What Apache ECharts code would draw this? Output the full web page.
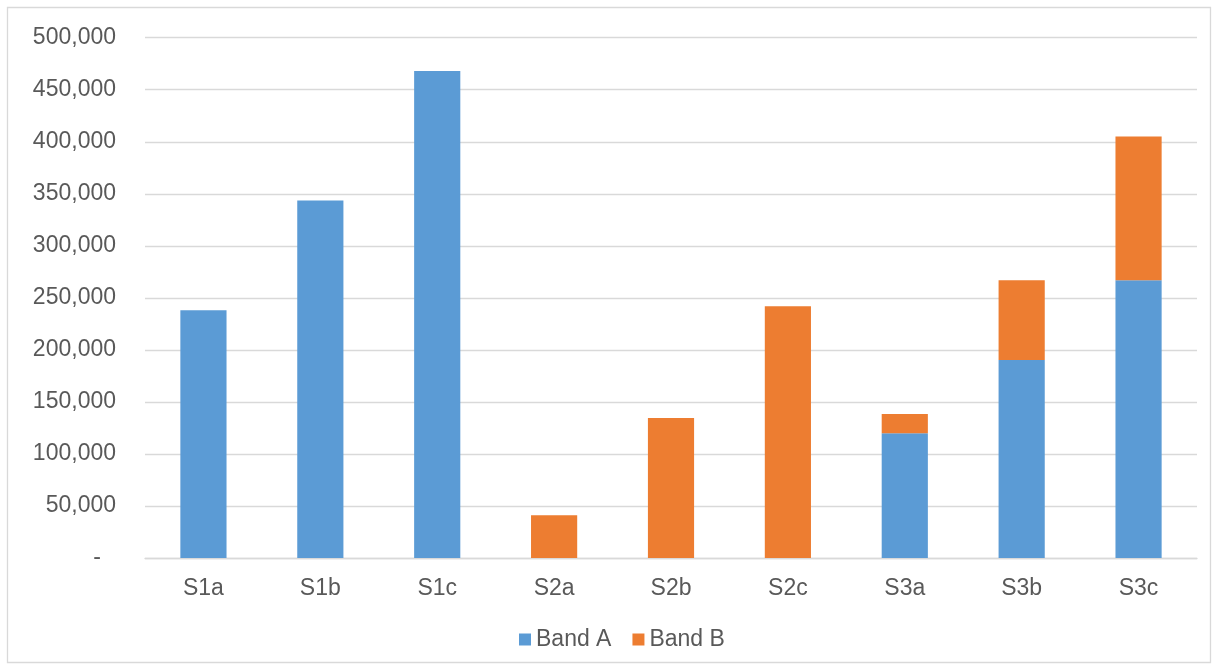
<!DOCTYPE html>
<html>
<head>
<meta charset="utf-8">
<script src="https://cdn.jsdelivr.net/npm/echarts@6/dist/echarts.min.js"></script>
<style>
  html, body { margin: 0; padding: 0; background: #fff; }
  #chart { width: 1217px; height: 670px; }
</style>
</head>
<body>
<div id="chart"></div>
<script>
// Categories and stacked values per band
const categories = ['S1a', 'S1b', 'S1c', 'S2a', 'S2b', 'S2c', 'S3a', 'S3b', 'S3c'];
const bandA = [238000, 343500, 468000, null, null, null, 120000, 190300, 267000];
const bandB = [null, null, null, 41000, 134500, 242000, 18500, 76600, 138000];
const yTicks = { min: 0, max: 500000, interval: 50000 };

const textColor = '#595959';
const gridColor = '#d9d9d9';
const fontFamily = '"Liberation Sans", Arial, sans-serif';
const fontSize = 23;

const chart = echarts.init(document.getElementById('chart'), null, { renderer: 'canvas' });

chart.setOption({
  animation: false,
  textStyle: { fontFamily: fontFamily },
  graphic: [{
    type: 'rect',
    shape: { x: 7.5, y: 7.5, width: 1203, height: 655 },
    style: { fill: 'none', stroke: gridColor, lineWidth: 1.3 },
    silent: true
  }],
  grid: { left: 145, right: 20, top: 37.7, bottom: 112 },
  legend: {
    data: ['Band A', 'Band B'],
    left: 514,
    top: 623,
    itemWidth: 12,
    itemHeight: 12,
    itemGap: 21,
    icon: 'rect',
    textStyle: { color: textColor, fontSize: fontSize, fontFamily: fontFamily }
  },
  xAxis: {
    type: 'category',
    data: categories,
    axisLine: { lineStyle: { color: gridColor, width: 1.3 } },
    axisTick: { show: false },
    axisLabel: { color: textColor, fontSize: fontSize, margin: 19, fontFamily: fontFamily }
  },
  yAxis: {
    type: 'value',
    min: yTicks.min,
    max: yTicks.max,
    interval: yTicks.interval,
    axisLine: { show: false },
    axisTick: { show: false },
    splitLine: { lineStyle: { color: gridColor, width: 1.3 } },
    axisLabel: {
      color: textColor,
      fontSize: fontSize,
      margin: 29,
      fontFamily: fontFamily,
      formatter: function (v) {
        if (v === 0) return '{z|-}';
        return v.toLocaleString('en-US');
      },
      rich: {
        z: { color: textColor, fontSize: fontSize, fontFamily: fontFamily, padding: [0, 15, 0, 0] }
      }
    }
  },
  series: [
    {
      name: 'Band A',
      type: 'bar',
      stack: 'total',
      barWidth: '39.5%',
      data: bandA,
      itemStyle: { color: '#5b9bd5' }
    },
    {
      name: 'Band B',
      type: 'bar',
      stack: 'total',
      barWidth: '39.5%',
      data: bandB,
      itemStyle: { color: '#ed7d31' }
    }
  ]
});
</script>
</body>
</html>
